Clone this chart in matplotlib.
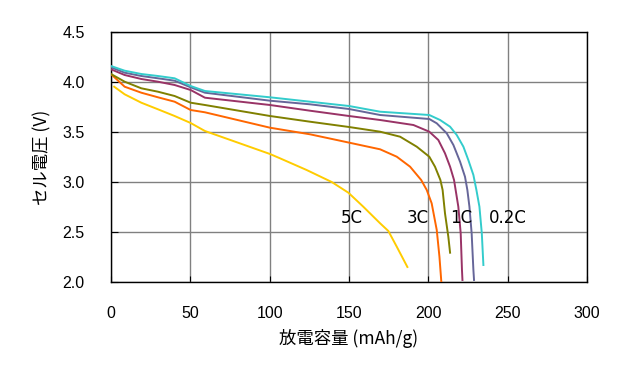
import matplotlib
matplotlib.use("Agg")
import matplotlib.pyplot as plt

# ---- data ----
x_02C = [0, 8.6, 19.1, 29.6, 40.1, 50.2, 59.2, 100.2, 125.4, 150, 169.6, 200.6, 207.4, 213.7, 217.9, 222.1, 225.2, 228.4, 230.3, 232.2, 233.7, 234.7]
y_02C = [4.16, 4.113, 4.08, 4.06, 4.037, 3.96, 3.91, 3.847, 3.803, 3.76, 3.703, 3.67, 3.62, 3.553, 3.47, 3.353, 3.22, 3.07, 2.92, 2.753, 2.487, 2.17]

x_05C = [0, 8.6, 19.1, 29.6, 40.1, 50.2, 59.2, 100.2, 125.4, 150, 169.6, 200.6, 205.3, 211.6, 215.8, 220.0, 223.1, 224.6, 225.9, 227.3, 228.4, 228.8]
y_05C = [4.147, 4.093, 4.06, 4.037, 4.013, 3.947, 3.893, 3.813, 3.777, 3.73, 3.67, 3.63, 3.587, 3.487, 3.37, 3.203, 3.053, 2.92, 2.753, 2.487, 2.12, 2.02]

x_1C = [0, 8.6, 19.1, 29.6, 40.1, 50.2, 59.2, 100.2, 125.4, 150, 169.6, 190.6, 200.6, 206.3, 210.5, 213.7, 216.2, 218.9, 220.4, 221.2, 221.5]
y_1C = [4.127, 4.07, 4.03, 4.003, 3.97, 3.92, 3.843, 3.77, 3.713, 3.66, 3.62, 3.57, 3.503, 3.42, 3.287, 3.153, 3.02, 2.753, 2.487, 2.12, 2.02]

x_2C = [0, 8.6, 19.1, 29.6, 40.1, 50.2, 59.2, 100.2, 125.4, 150, 169.6, 182.2, 192.7, 200.6, 204.2, 207.6, 209.0, 210.5, 212.6, 213.7]
y_2C = [4.08, 4.003, 3.937, 3.903, 3.86, 3.793, 3.77, 3.66, 3.603, 3.55, 3.503, 3.453, 3.353, 3.253, 3.153, 3.02, 2.92, 2.687, 2.453, 2.293]

x_3C = [0.6, 8.6, 19.1, 29.6, 40.1, 50.2, 59.2, 100.2, 125.4, 142.3, 169.6, 180.1, 188.5, 195.5, 199.0, 202.1, 205.3, 207.0, 208.2]
y_3C = [4.07, 3.953, 3.893, 3.847, 3.803, 3.72, 3.697, 3.543, 3.477, 3.42, 3.327, 3.253, 3.153, 3.02, 2.92, 2.787, 2.52, 2.253, 2.0]

x_5C = [2.0, 8.6, 19.1, 29.6, 40.1, 50.2, 59.2, 74, 100.2, 106.5, 123.3, 139.1, 149.6, 159.0, 169.6, 174.8, 180.1, 186.8]
y_5C = [3.953, 3.877, 3.793, 3.727, 3.66, 3.59, 3.51, 3.427, 3.28, 3.237, 3.12, 3.0, 2.893, 2.753, 2.587, 2.51, 2.353, 2.15]

rate_labels = ["5C", "3C", "1C", "0.2C"]
label_x = [151.7, 193.5, 220.8, 249.9]
label_y = [2.64, 2.64, 2.64, 2.64]

x_ticks = [0, 50, 100, 150, 200, 250, 300]
y_ticks = [2.0, 2.5, 3.0, 3.5, 4.0, 4.5]

series = [
    (x_5C, y_5C, "#FFCC00"),
    (x_3C, y_3C, "#FF6600"),
    (x_2C, y_2C, "#808000"),
    (x_1C, y_1C, "#993366"),
    (x_05C, y_05C, "#666699"),
    (x_02C, y_02C, "#33CCCC"),
]

fig = plt.figure(figsize=(6.18, 3.72), dpi=100)
ax = fig.add_axes([111/618, 90/372, 476/618, 250/372])

for xs, ys, c in series:
    ax.plot(xs, ys, color=c, lw=1.4, zorder=3, solid_joinstyle="round")

ax.set_xlim(0, 300)
ax.set_ylim(2.0, 4.5)
ax.set_xticks(x_ticks)
ax.set_yticks(y_ticks)
ax.set_xticklabels([str(v) for v in x_ticks], family="Liberation Sans", fontsize=11.5)
ax.set_yticklabels([f"{v:.1f}" for v in y_ticks], family="Liberation Sans", fontsize=11.5)
ax.tick_params(axis="x", direction="in", length=4, color="black", pad=17)
ax.tick_params(axis="y", direction="in", length=5, color="black", pad=19)
ax.grid(True, color="#808080", lw=1, zorder=1)
ax.set_axisbelow(True)
for s in ax.spines.values():
    s.set_color("black")
    s.set_linewidth(1.0)

for t, lx, ly in zip(rate_labels, label_x, label_y):
    ax.text(lx, ly, t, ha="center", va="center", fontsize=12, family="DejaVu Sans", zorder=4)

ax.set_xlabel("放電容量 (mAh/g)", family=["Noto Sans CJK JP", "DejaVu Sans"], fontsize=12.5, labelpad=6)
ax.set_ylabel("セル電圧 (V)", family=["Noto Sans CJK JP", "DejaVu Sans"], fontsize=12.5, labelpad=8)

fig.savefig("out.png", dpi=100)
